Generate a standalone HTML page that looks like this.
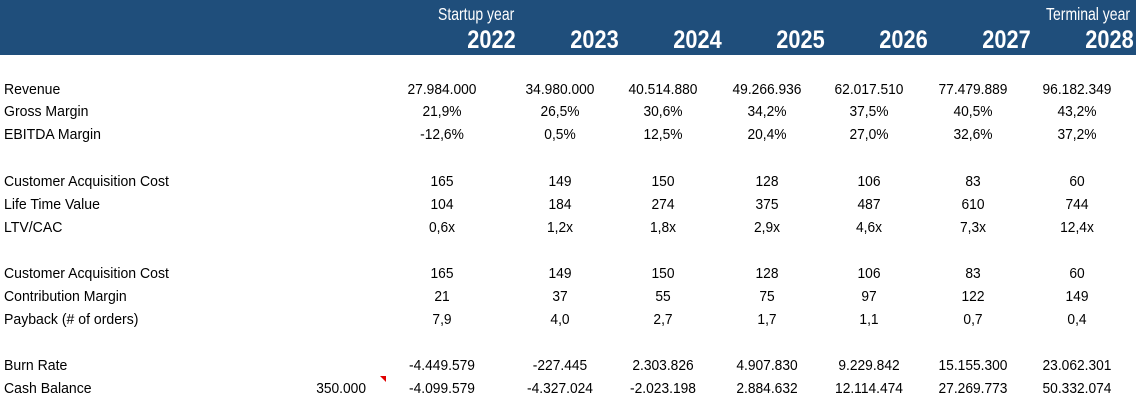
<!DOCTYPE html>
<html><head><meta charset="utf-8"><style>
body{margin:0;width:1138px;height:401px;background:#fff;position:relative;overflow:hidden;font-family:"Liberation Sans Narrow","Liberation Sans",sans-serif;color:#000}
#hdr{position:absolute;left:0;top:0;width:1136px;height:55px;background:#1f4e7b}
.t{position:absolute;white-space:nowrap;font-size:14.5px;line-height:18px}
.c{transform:translateX(-50%) scaleX(0.95)}
.l{transform-origin:0 0;transform:scaleX(0.97)}
.yr{position:absolute;top:26px;font-size:25px;font-weight:bold;color:#fff;line-height:28px;transform-origin:0 50%;white-space:nowrap}
.sub{position:absolute;top:4px;font-size:17.5px;color:#fff;line-height:20px;transform-origin:0 0;transform:scaleX(0.8);white-space:nowrap}
</style></head><body>
<div id="hdr"></div>
<div class="sub" style="left:438px">Startup year</div>
<div class="sub" style="left:1046px">Terminal year</div>
<div style="position:absolute;left:380px;top:376px;width:0;height:0;border-top:6px solid #e00000;border-left:6px solid transparent"></div>
<div class="t" style="left:366px;top:380px;transform:translateX(-100%) scaleX(0.95);transform-origin:100% 0">350.000</div>
<script>
const years=["2022","2023","2024","2025","2026","2027","2028"];
const labels=["Revenue","Gross Margin","EBITDA Margin","Customer Acquisition Cost","Life Time Value","LTV/CAC","Customer Acquisition Cost","Contribution Margin","Payback (# of orders)","Burn Rate","Cash Balance"];
const rowY=[90,112,135,182,205,228,274,297,320,366,389];
const revenue=["27.984.000","34.980.000","40.514.880","49.266.936","62.017.510","77.479.889","96.182.349"];
const grossMargin=["21,9%","26,5%","30,6%","34,2%","37,5%","40,5%","43,2%"];
const ebitdaMargin=["-12,6%","0,5%","12,5%","20,4%","27,0%","32,6%","37,2%"];
const cac=["165","149","150","128","106","83","60"];
const ltv=["104","184","274","375","487","610","744"];
const ltvCac=["0,6x","1,2x","1,8x","2,9x","4,6x","7,3x","12,4x"];
const contribution=["21","37","55","75","97","122","149"];
const payback=["7,9","4,0","2,7","1,7","1,1","0,7","0,4"];
const burn=["-4.449.579","-227.445","2.303.826","4.907.830","9.229.842","15.155.300","23.062.301"];
const cash=["-4.099.579","-4.327.024","-2.023.198","2.884.632","12.114.474","27.269.773","50.332.074"];
const rows=[revenue,grossMargin,ebitdaMargin,cac,ltv,ltvCac,cac,contribution,payback,burn,cash];
const colC=[442,560,663,767,869,973,1077];
const yrRight=[516,619,722,825,928,1031,1134];
years.forEach((y,i)=>{
 const d=document.createElement('div');d.className='yr';d.style.left=yrRight[i]+'px';d.textContent=y;
 
 
 document.body.appendChild(d);
 const w=d.offsetWidth;d.style.transform='translateX('+(-w*0.87)+'px) scaleX(0.87)';
});
labels.forEach((l,r)=>{
 const d=document.createElement('div');d.className='t l';d.style.left='4px';d.style.top=(rowY[r]-9)+'px';d.textContent=l;
 
 
 document.body.appendChild(d);
 rows[r].forEach((v,i)=>{
  const e=document.createElement('div');e.className='t c';e.style.left=colC[i]+'px';e.style.top=(rowY[r]-9)+'px';e.textContent=v;
  
  
  document.body.appendChild(e);
 });
});
</script>
</body></html>
